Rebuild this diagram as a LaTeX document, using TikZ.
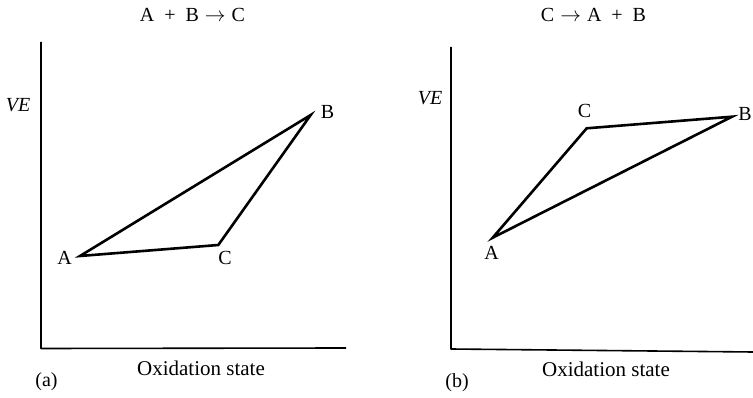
\documentclass[tikz,border=0pt]{standalone}
\usepackage{fontspec}
\setmainfont{Liberation Serif}
\newcommand{\vlab}[1]{\fontsize{20pt}{22pt}\selectfont #1}
\newcommand{\alab}[1]{\fontsize{21pt}{23pt}\selectfont #1}
\newcommand{\rarr}{\kern0.3em$\rightarrow$\kern0.3em}
\begin{document}
\begin{tikzpicture}[x=1pt,y=-1pt,line join=bevel,
  every node/.style={inner sep=0pt,outer sep=0pt,anchor=base},
  axisline/.style={line width=1.6pt},
  triline/.style={line width=2.6pt,line join=miter}]
  % 画布与源图一致：753×398px，1px=1pt，y 向下
  \path[use as bounding box] (0,0) rectangle (753,398);
  % ---- (a) 坐标轴：左上原点像素 ----
  \coordinate (aTop) at (41,42);
  \coordinate (aO)   at (41,348.5);
  \coordinate (aEnd) at (346,348);
  \draw[axisline] (aTop) -- (aO) -- (aEnd);
  % ---- (a) 三角形顶点 ----
  \coordinate (aA) at ( 80.0,256.0);
  \coordinate (aC) at (218.3,245.0);
  \coordinate (aB) at (310.7,115.0);
  \draw[triline] (aA) -- (aC) -- (aB) -- cycle;
  % ---- (a) 标签 ----
  \node (aTitle) at (192.5, 22) {\vlab{A\enspace+\enspace B\rarr C}};
  \node (aVE)    at ( 18.0,112) {\vlab{\textit{VE}}};
  \node (aAl)    at ( 64.5,265) {\vlab{A}};
  \node (aCl)    at (225.0,265) {\vlab{C}};
  \node (aBl)    at (327.5,119) {\vlab{B}};
  \node (aXl)    at (201.0,375.5) {\alab{Oxidation state}};
  \node (aTag)   at ( 46.5,386) {\vlab{(a)}};
  % ---- (b) 坐标轴：x 轴右端略下斜 ----
  \coordinate (bTop) at (451,47);
  \coordinate (bO)   at (451,349);
  \coordinate (bEnd) at (753,352);
  \draw[axisline] (bTop) -- (bO) -- (bEnd);
  % ---- (b) 三角形顶点 ----
  \coordinate (bA) at (492.7,237.7);
  \coordinate (bC) at (586.7,128.3);
  \coordinate (bB) at (732.0,116.7);
  \draw[triline] (bA) -- (bC) -- (bB) -- cycle;
  % ---- (b) 标签 ----
  \node (bTitle) at (593.5, 22) {\vlab{C\rarr A\enspace+\enspace B}};
  \node (bVE)    at (430.0,105) {\vlab{\textit{VE}}};
  \node (bAl)    at (491.5,260) {\vlab{A}};
  \node (bCl)    at (584.5,118) {\vlab{C}};
  \node (bBl)    at (745.0,121) {\vlab{B}};
  \node (bXl)    at (606.0,377) {\alab{Oxidation state}};
  \node (bTag)   at (457.0,387) {\vlab{(b)}};
\end{tikzpicture}
\end{document}
